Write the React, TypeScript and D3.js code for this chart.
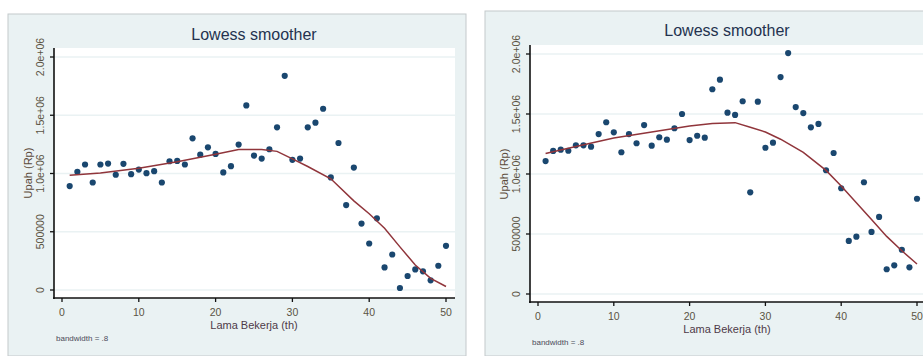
import React, { useEffect, useRef } from 'react';
import * as d3 from 'd3';

// lama bekerja (tahun), the same for both panels
const lamaKerja = [
  1, 2, 3, 4, 5, 6, 7, 8, 9, 10, 11, 12, 13, 14, 15, 16, 17, 18, 19, 20, 21, 22, 23, 24, 25,
  26, 27, 28, 29, 30, 31, 32, 33, 34, 35, 36, 37, 38, 39, 40, 41, 42, 43, 44, 45, 46, 47, 48, 49, 50,
];

// upah (Rp), left panel
const upahKiri = [
  892000, 1014000, 1077000, 923000, 1077000, 1085000, 989000, 1083000, 994000, 1034000,
  1003000, 1020000, 923000, 1105000, 1108000, 1077000, 1302000, 1162000, 1225000, 1168000,
  1009000, 1063000, 1248000, 1584000, 1154000, 1128000, 1208000, 1396000, 1838000, 1117000,
  1128000, 1396000, 1436000, 1556000, 966000, 1262000, 729000, 1051000, 570000, 399000,
  615000, 194000, 305000, 17000, 120000, 177000, 160000, 83000, 208000, 379000,
];

// upah (Rp), right panel
const upahKanan = [
  1108000, 1192000, 1203000, 1194000, 1239000, 1239000, 1228000, 1333000, 1431000, 1347000,
  1181000, 1333000, 1256000, 1408000, 1236000, 1306000, 1286000, 1381000, 1500000, 1283000,
  1319000, 1303000, 1706000, 1786000, 1511000, 1492000, 1606000, 847000, 1603000, 1219000,
  1261000, 1808000, 2008000, 1558000, 1508000, 1389000, 1417000, 1031000, 1175000, 881000,
  442000, 478000, 931000, 517000, 642000, 206000, 239000, 369000, 222000, 794000,
];

// lowess curve
const lowessX = [1, 5, 10, 15, 20, 23, 26, 28, 30, 32, 35, 38, 40, 42, 44, 46, 48, 50];
const lowessKiri = [
  985000, 1005000, 1045000, 1100000, 1165000, 1205000, 1207000, 1190000, 1125000, 1060000,
  955000, 765000, 655000, 530000, 370000, 215000, 100000, 30000,
];
const lowessKanan = [
  1170000, 1230000, 1300000, 1350000, 1400000, 1420000, 1428000, 1390000, 1350000, 1290000,
  1180000, 1030000, 900000, 760000, 620000, 480000, 360000, 250000,
];

const yTicks = [0, 500000, 1000000, 1500000, 2000000];
const yTickLabels = ['0', '500000', '1.0e+06', '1.5e+06', '2.0e+06'];
const xTicks = [0, 10, 20, 30, 40, 50];

const BG = '#eaf2f3';
const NAVY = '#1a476f';
const MAROON = '#90353b';
const FONT = 'Arial, "Liberation Sans", sans-serif';

const App = () => {
  const svgRef = useRef(null);

  useEffect(() => {
    const svg = d3.select(svgRef.current);
    svg.selectAll('*').remove();

    const drawPanel = (p, upah, lowess) => {
      // outer graph region
      svg.append('rect')
        .attr('x', p.left).attr('y', p.top)
        .attr('width', p.width).attr('height', 356 - p.top)
        .attr('fill', BG)
        .attr('stroke', '#c4c9cb')
        .attr('stroke-width', 1);

      svg.append('text')
        .attr('x', p.titleX).attr('y', p.titleY)
        .attr('text-anchor', 'middle')
        .style('font-family', FONT).style('font-size', '16px')
        .attr('fill', '#24324f')
        .text('Lowess smoother');

      const x = d3.scaleLinear().domain([0, 50]).range([p.x0, p.x50]);
      const y = d3.scaleLinear().domain([0, 2000000]).range([p.y0, p.y2m]);

      // plot region
      svg.append('rect')
        .attr('x', p.axisX).attr('y', p.plotTop)
        .attr('width', p.plotRight - p.axisX).attr('height', p.axisY - p.plotTop)
        .attr('fill', 'white');

      const g = svg.append('g');

      g.selectAll('.grid')
        .data(yTicks)
        .join('line')
        .attr('x1', p.axisX).attr('x2', p.plotRight)
        .attr('y1', d => y(d)).attr('y2', d => y(d))
        .attr('stroke', BG).attr('stroke-width', 1.6);

      // y axis
      g.append('line')
        .attr('x1', p.axisX).attr('x2', p.axisX)
        .attr('y1', p.plotTop).attr('y2', p.axisY + 1)
        .attr('stroke', '#111').attr('stroke-width', 1.6);
      g.selectAll('.ytick')
        .data(yTicks)
        .join('line')
        .attr('x1', p.axisX - 4).attr('x2', p.axisX)
        .attr('y1', d => y(d)).attr('y2', d => y(d))
        .attr('stroke', '#111').attr('stroke-width', 1.3);
      g.selectAll('.ylab')
        .data(yTicks)
        .join('text')
        .attr('transform', d => `translate(${p.axisX - 10},${y(d)}) rotate(-90)`)
        .attr('text-anchor', 'middle')
        .style('font-family', FONT).style('font-size', '10.5px')
        .attr('fill', '#5b5444')
        .text((d, i) => yTickLabels[i]);

      g.append('text')
        .attr('transform', `translate(${p.axisX - 22},${p.yLabelY}) rotate(-90)`)
        .attr('text-anchor', 'middle')
        .style('font-family', FONT).style('font-size', '11px')
        .attr('fill', '#5b4a3a')
        .text('Upah (Rp)');

      // x axis
      g.append('line')
        .attr('x1', p.axisX - 1).attr('x2', p.plotRight)
        .attr('y1', p.axisY).attr('y2', p.axisY)
        .attr('stroke', '#111').attr('stroke-width', 1.6);
      g.selectAll('.xtick')
        .data(xTicks)
        .join('line')
        .attr('x1', d => x(d)).attr('x2', d => x(d))
        .attr('y1', p.axisY).attr('y2', p.axisY + 4)
        .attr('stroke', '#111').attr('stroke-width', 1.3);
      g.selectAll('.xlab')
        .data(xTicks)
        .join('text')
        .attr('x', d => x(d)).attr('y', p.axisY + 18)
        .attr('text-anchor', 'middle')
        .style('font-family', FONT).style('font-size', '10.5px')
        .attr('fill', '#5b5444')
        .text(d => d);

      g.append('text')
        .attr('x', p.titleX).attr('y', p.axisY + 31)
        .attr('text-anchor', 'middle')
        .style('font-family', FONT).style('font-size', '11px')
        .attr('fill', '#4e3a48')
        .text('Lama Bekerja (th)');

      g.append('text')
        .attr('x', p.axisX + 2).attr('y', p.axisY + 43)
        .style('font-family', FONT).style('font-size', '8px')
        .attr('fill', '#4b4b5a')
        .text('bandwidth = .8');

      // points
      g.selectAll('.pt')
        .data(lamaKerja)
        .join('path')
        .attr('d', d3.symbol().type(d3.symbolCircle).size(30))
        .attr('transform', (d, i) => `translate(${x(d)},${y(upah[i])})`)
        .attr('fill', NAVY);

      // lowess line
      const line = d3.line()
        .x(d => x(d))
        .y((d, i) => y(lowess[i]));
      g.append('path')
        .datum(lowessX)
        .attr('d', line)
        .attr('fill', 'none')
        .attr('stroke', MAROON)
        .attr('stroke-width', 1.5);
    };

    drawPanel({
      left: 8, top: 14, width: 458,
      titleX: 254, titleY: 40,
      axisX: 54, axisY: 298, plotTop: 48, plotRight: 455,
      x0: 62, x50: 446, y0: 290, y2m: 57, yLabelY: 173,
    }, upahKiri, lowessKiri);

    drawPanel({
      left: 485, top: 11, width: 460,
      titleX: 727, titleY: 36,
      axisX: 530, axisY: 302, plotTop: 45, plotRight: 940,
      x0: 538, x50: 917, y0: 294, y2m: 54, yLabelY: 174,
    }, upahKanan, lowessKanan);
  }, []);

  return (
    <svg
      ref={svgRef}
      width={923}
      height={356}
      style={{ position: 'absolute', left: 0, top: 0, background: 'white' }}
    />
  );
};

export default App;
